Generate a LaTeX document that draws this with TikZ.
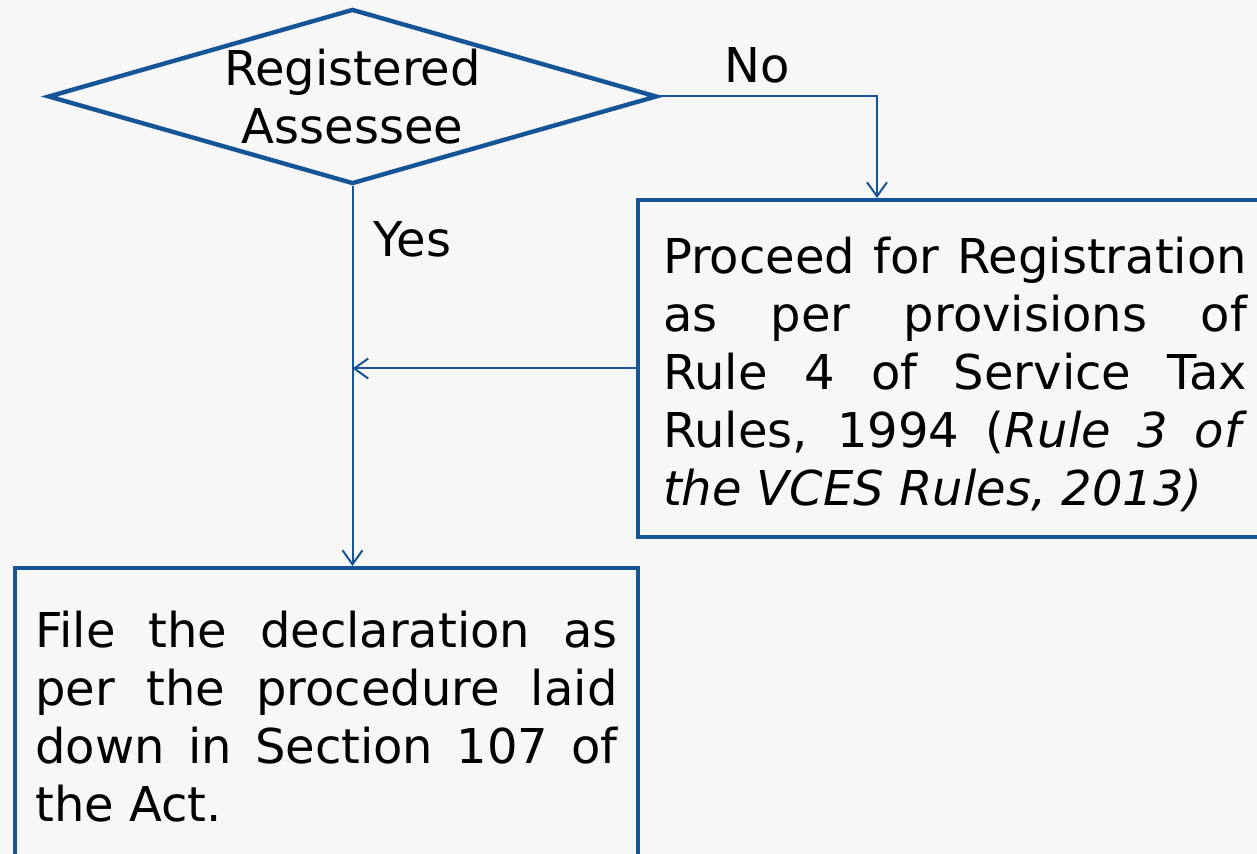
\documentclass[tikz,border=0pt]{standalone}
\usepackage{fontspec}
\setmainfont{DejaVu Sans}
\usetikzlibrary{arrows.meta,positioning,shapes.geometric}
\definecolor{flowblue}{RGB}{22,84,152}
\definecolor{slidebg}{RGB}{247,247,247}
\newcommand{\flowfont}{\fontsize{24}{29}\selectfont}
\tikzset{
  decision/.style={diamond,draw=flowblue,line width=2.2pt,inner sep=0pt,
                   minimum width=304.5pt,minimum height=87.5pt},
  procbox/.style={rectangle,draw=flowblue,line width=2pt,inner sep=0pt,
                  font=\flowfont,align=justify},
  flow/.style={-{Straight Barb[length=7pt,width=10pt]},draw=flowblue,line width=1pt},
  flowlabel/.style={font=\flowfont,inner sep=2pt},
}

\begin{document}
\begin{tikzpicture}[x=0.5pt,y=-0.5pt]
  \clip (0,0) rectangle (1257,854);
  \fill[slidebg] (0,0) rectangle (1257,854);
  \node[decision,label={[font=\flowfont,align=center]center:{Registered\\Assessee}}]
    (reg) at (352.5,96.5) {};
  \node[procbox,text width=292pt,minimum width=317pt,minimum height=168.5pt]
    (proc) at (955,368.5)
    {\rule{0pt}{24.5pt}Proceed for Registration\linebreak as per provisions of\linebreak
     Rule 4 of Service Tax\linebreak Rules, 1994 (\textit{Rule 3 of}\linebreak
     \textit{the VCES Rules, 2013)}};
  \node[procbox,text width=291pt,minimum width=311.5pt,minimum height=149pt]
    (file) at (326.5,717)
    {File the declaration as\linebreak per the procedure laid\linebreak
     down in Section 107 of\linebreak the Act.};
  \draw[flow] (reg.east) -| node[flowlabel,pos=.225,above=4pt]{No}
    ([xshift=120.5pt]proc.north west);
  \draw[flow] (reg.south) -- node[flowlabel,pos=.14,right=8pt]{Yes}
    (reg.south |- file.north);
  \draw[flow] (proc.west) -- (proc.west -| reg.south);
\end{tikzpicture}
\end{document}
